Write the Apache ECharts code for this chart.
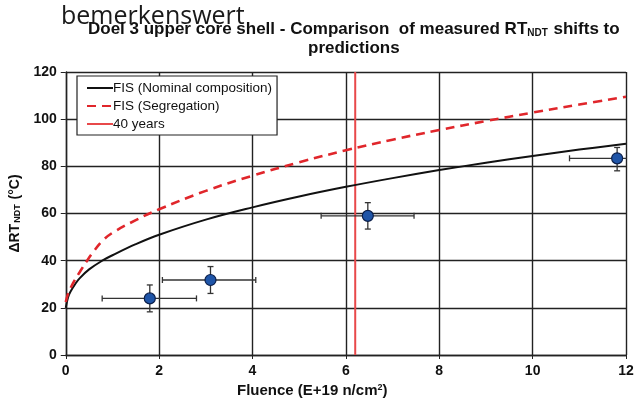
<!DOCTYPE html>
<html>
<head>
<meta charset="utf-8">
<script src="https://cdn.jsdelivr.net/npm/echarts@6/dist/echarts.min.js"></script>
<style>html,body{margin:0;padding:0;background:#fff;}#c{width:641px;height:406px;}</style>
</head>
<body>
<div id="c"></div>
<script>
// ---- data ----
const nominalX = [0, 0.05, 0.1, 0.2, 0.3, 0.5, 0.8, 1, 1.5, 2, 3, 4, 5, 6, 7, 8, 9, 10, 11, 12];
const nominalY = [20, 24.5, 26.8, 30, 32.6, 36.3, 40.2, 42.3, 47, 51, 57.4, 62.6, 67.2, 71.3, 75, 78.4, 81.5, 84.4, 87.1, 89.6];
const segX = [0, 0.05, 0.1, 0.2, 0.3, 0.44, 0.6, 0.78, 1, 1.5, 2, 3, 4, 5, 6, 7, 8, 9, 10, 11, 12];
const segY = [22.5, 26, 28.3, 32, 35.2, 39.5, 44, 48.3, 51.8, 57.2, 61.8, 69.6, 76, 81.7, 86.8, 91.3, 95.4, 99.2, 102.8, 106.2, 109.5];
const fortyYearsX = [6.2, 6.2];
const fortyYearsY = [0, 120];
const measX = [1.8, 3.1, 6.47, 11.81];
const measY = [24, 31.8, 59, 83.4];
const measXLo = [0.78, 2.07, 5.47, 10.79];
const measXHi = [2.8, 4.07, 7.46, 12.6];
const measYLo = [18.3, 26.1, 53.4, 78.1];
const measYHi = [29.7, 37.5, 64.6, 88];
const xTicks = [0, 2, 4, 6, 8, 10, 12];
const yTicks = [0, 20, 40, 60, 80, 100, 120];
const seriesNames = ['FIS (Nominal composition)', 'FIS (Segregation)', '40 years'];

const zip = (a, b) => a.map((v, i) => [v, b[i]]);
const errData = measX.map((x, i) => [x, measY[i], measXLo[i], measXHi[i], measYLo[i], measYHi[i]]);

const chart = echarts.init(document.getElementById('c'), null, {renderer: 'canvas'});
const FONT = 'Liberation Sans, Arial, sans-serif';

const option = {
  animation: false,
  backgroundColor: '#fff',
  grid: {left: 64, right: 15, top: 72, bottom: 51, containLabel: false},
  title: [
    {
      text: '{a|Doel 3 upper core shell - Comparison  of measured RT}{s|NDT}{a| shifts to}',
      left: 88, top: 20, padding: 0,
      textStyle: {rich: {
        a: {fontFamily: FONT, fontWeight: 'bold', fontSize: 17, color: '#111', lineHeight: 18},
        s: {fontFamily: FONT, fontWeight: 'bold', fontSize: 10, color: '#111', lineHeight: 18, verticalAlign: 'bottom', padding: [7, 1, 0, 0]}
      }}
    },
    {
      text: 'predictions',
      left: 308, top: 39, padding: 0,
      textStyle: {fontFamily: FONT, fontWeight: 'bold', fontSize: 17, color: '#111', lineHeight: 18}
    },
    {
      text: 'bemerkenswert',
      left: 61, top: 2, padding: 0,
      textStyle: {fontFamily: 'Open Sans, sans-serif', fontWeight: 'normal', fontSize: 25, color: '#1a1a1a', lineHeight: 30}
    }
  ],
  legend: {
    orient: 'vertical',
    left: 77, top: 76,
    padding: [5, 5, 4, 9],
    itemGap: 4,
    itemWidth: 26,
    itemHeight: 14,
    backgroundColor: '#fff',
    borderColor: '#222',
    borderWidth: 1.2,
    borderRadius: 0,
    data: seriesNames,
    itemStyle: {opacity: 0},
    textStyle: {fontFamily: FONT, fontSize: 13.5, color: '#111', padding: [0, 0, 0, -5]}
  },
  xAxis: {
    type: 'value', min: 0, max: 12, interval: 2,
    axisLine: {show: true, onZero: false, lineStyle: {color: '#222', width: 1.4}},
    axisTick: {show: true, length: 4, lineStyle: {color: '#222'}},
    splitLine: {show: true, lineStyle: {color: '#222', width: 1.4}},
    axisLabel: {fontFamily: FONT, fontWeight: 'bold', fontSize: 14, color: '#111', margin: 9,
      formatter: v => xTicks.includes(v) ? String(v) : ''}
  },
  yAxis: {
    type: 'value', min: 0, max: 120, interval: 20,
    axisLine: {show: true, onZero: false, lineStyle: {color: '#222', width: 1.4}},
    axisTick: {show: true, length: 5, lineStyle: {color: '#222'}},
    splitLine: {show: true, lineStyle: {color: '#222', width: 1.4}},
    axisLabel: {fontFamily: FONT, fontWeight: 'bold', fontSize: 14, color: '#111', margin: 9,
      formatter: v => yTicks.includes(v) ? String(v) : ''},
    name: '{a|ΔRT}{s|NDT}{a| (°C)}',
    nameLocation: 'middle',
    nameGap: 31,
    nameTextStyle: {rich: {
      a: {fontFamily: FONT, fontWeight: 'bold', fontSize: 14, color: '#111'},
      s: {fontFamily: FONT, fontWeight: 'bold', fontSize: 9, color: '#111', verticalAlign: 'bottom', padding: [6, 1, 0, 1]}
    }}
  },
  graphic: [
    {
      type: 'text', left: 237, top: 383,
      style: {text: '{a|Fluence (E+19 n/cm}{s|2}{a|)}', rich: {
        a: {fontFamily: FONT, fontWeight: 'bold', fontSize: 15, fill: '#111'},
        s: {fontFamily: FONT, fontWeight: 'bold', fontSize: 9, fill: '#111', verticalAlign: 'top', padding: [0, 0, 6, 0]}
      }}
    }
  ],
  series: [
    {
      name: seriesNames[0], type: 'line', data: zip(nominalX, nominalY),
      smooth: 0.4, symbol: 'none',
      lineStyle: {color: '#111', width: 2}, itemStyle: {color: '#111'}, z: 4
    },
    {
      name: seriesNames[1], type: 'line', data: zip(segX, segY),
      smooth: 0.4, symbol: 'none',
      lineStyle: {color: '#e0262b', width: 2.6, type: [9, 6]}, itemStyle: {color: '#e0262b'}, z: 4
    },
    {
      name: seriesNames[2], type: 'line', data: zip(fortyYearsX, fortyYearsY),
      symbol: 'none',
      lineStyle: {color: '#e8484a', width: 2}, itemStyle: {color: '#e8484a'}, z: 3
    },
    {
      name: 'errors', type: 'custom', data: errData, z: 5, clip: true,
      renderItem: function (params, api) {
        const p = api.coord([api.value(0), api.value(1)]);
        const xl = api.coord([api.value(2), api.value(1)]);
        const xh = api.coord([api.value(3), api.value(1)]);
        const yl = api.coord([api.value(0), api.value(4)]);
        const yh = api.coord([api.value(0), api.value(5)]);
        const st = {stroke: '#333', lineWidth: 1.3};
        const c = 3;
        return {type: 'group', children: [
          {type: 'line', shape: {x1: xl[0], y1: p[1], x2: xh[0], y2: p[1]}, style: st},
          {type: 'line', shape: {x1: xl[0], y1: p[1] - c, x2: xl[0], y2: p[1] + c}, style: st},
          {type: 'line', shape: {x1: xh[0], y1: p[1] - c, x2: xh[0], y2: p[1] + c}, style: st},
          {type: 'line', shape: {x1: p[0], y1: yl[1], x2: p[0], y2: yh[1]}, style: st},
          {type: 'line', shape: {x1: p[0] - c, y1: yl[1], x2: p[0] + c, y2: yl[1]}, style: st},
          {type: 'line', shape: {x1: p[0] - c, y1: yh[1], x2: p[0] + c, y2: yh[1]}, style: st}
        ]};
      }
    },
    {
      name: 'measured', type: 'scatter', data: zip(measX, measY), z: 6,
      symbol: 'circle', symbolSize: 11,
      itemStyle: {color: '#1f55a8', borderColor: '#0b1f4a', borderWidth: 1.2, opacity: 1}
    }
  ]
};
chart.setOption(option);
</script>
</body>
</html>
